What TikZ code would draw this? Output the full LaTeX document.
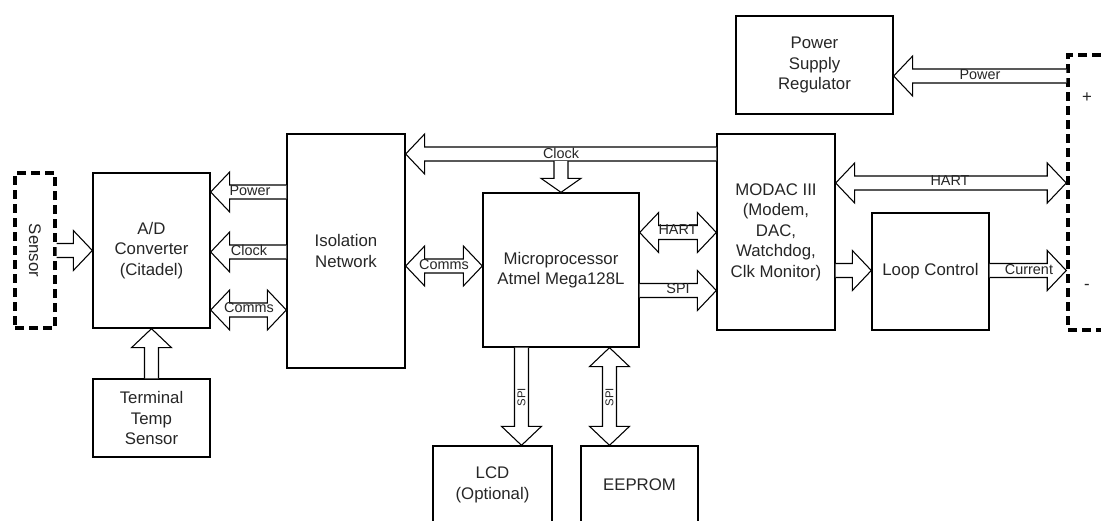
\documentclass[tikz,border=0pt]{standalone}
\usepackage{fontspec}
\setmainfont{Liberation Sans}
\usetikzlibrary{calc}
\def\AW{5.25pt}
\def\AH{15pt}
\def\AL{14.25pt}
\newcommand\mainf{\fontsize{12.6pt}{15.4pt}\selectfont}
\newcommand\labf{\fontsize{10.8pt}{12pt}\selectfont}
\newcommand\tinyf{\fontsize{8.5pt}{10pt}\selectfont}
% single block arrow from #2 to #3
\newcommand\sarrow[3][]{%
  \coordinate (s) at #2; \coordinate (t) at #3;
  \coordinate (hb) at ($(t)!\AL!(s)$);
  \draw[arr,#1] ($(s)!\AW!90:(t)$) -- ($(hb)!\AW!90:(t)$) -- ($(hb)!\AH!90:(t)$) -- (t)
    -- ($(hb)!\AH!-90:(t)$) -- ($(hb)!\AW!-90:(t)$) -- ($(s)!\AW!-90:(t)$);}
% double block arrow between #2 and #3
\newcommand\darrow[3][]{%
  \coordinate (s) at #2; \coordinate (t) at #3;
  \coordinate (hs) at ($(s)!\AL!(t)$);
  \coordinate (ht) at ($(t)!\AL!(s)$);
  \draw[arr,#1] (s) -- ($(hs)!\AH!90:(t)$) -- ($(hs)!\AW!90:(t)$) -- ($(ht)!\AW!90:(t)$)
    -- ($(ht)!\AH!90:(t)$) -- (t) -- ($(ht)!\AH!-90:(t)$) -- ($(ht)!\AW!-90:(t)$)
    -- ($(hs)!\AW!-90:(t)$) -- ($(hs)!\AH!-90:(t)$) -- cycle;}
\tikzset{
  box/.style={draw, line width=1pt, align=center, inner sep=0pt, font=\mainf, text=black!85},
  dbox/.style={draw, line width=2.6pt, dash pattern=on 7pt off 3.5pt, inner sep=0pt},
  sz/.style 2 args={minimum width=#1*0.75pt, minimum height=#2*0.75pt},
  arr/.style={draw, line width=0.8pt, fill=white, line join=miter},
  lab/.style={font=\labf, text=black!85, inner sep=0pt},
}
\begin{document}
\begin{tikzpicture}[x=0.75pt, y=-0.75pt]
\useasboundingbox (0,0) rectangle (1101,521);
\clip (0,0) rectangle (1101,521);
% helper levels
\coordinate (yPowL) at (0,192);
\coordinate (yClkL) at (0,252);
\coordinate (yComL) at (0,310);
\coordinate (yClkT) at (0,154);
\coordinate (yClkB) at (0,161);
\coordinate (yComM) at (0,266);
\coordinate (yHartM) at (0,232.5);
\coordinate (ySpiM) at (0,290.5);
\coordinate (yPowR) at (0,76);
\coordinate (yHartR) at (0,183);
\coordinate (yLoop) at (0,270.5);
\coordinate (xLcd) at (521.5,0);
\coordinate (xEep) at (609.5,0);
% blocks
\node[dbox, sz={40}{155}] (sensor) at (35,250.5) {};
\node[font=\mainf, text=black!85, rotate=-90] at (sensor.center) {Sensor};
\node[box, sz={117}{155}] (ad) at (151.5,250.5) {A/D\\Converter\\(Citadel)};
\node[box, sz={117}{78}] (tts) at (151.5,418) {Terminal\\Temp\\Sensor};
\node[box, sz={118}{234}] (iso) at (346,251) {Isolation\\Network};
\node[box, sz={156}{154}] (mcu) at (561,270) {Microprocessor\\Atmel Mega128L};
\node[box, sz={118}{196}] (modac) at (776,232) {MODAC III\\(Modem,\\DAC,\\Watchdog,\\Clk Monitor)};
\node[box, sz={157}{98}] (psr) at (814.5,65) {Power\\Supply\\Regulator};
\node[box, sz={117}{117}] (loop) at (930.5,271.5) {Loop Control};
\node[box, sz={119}{78}] (lcd) at (492.5,485) {LCD\\(Optional)};
\node[box, sz={117}{78}] (eep) at (639.5,485) {EEPROM};
\node[dbox, sz={40}{275}] (term) at (1088,192.5) {};
\node[font=\mainf, text=black!85] (plus) at (1087,98) {+};
\node[font=\mainf, text=black!85] (minus) at (1087,287) {-};
% connectors
\sarrow{(sensor.east)}{(sensor.east -| ad.west)}
\sarrow{(iso.west |- yPowL)}{(ad.east |- yPowL)}
\sarrow{(iso.west |- yClkL)}{(ad.east |- yClkL)}
\darrow{(ad.east |- yComL)}{(iso.west |- yComL)}
\sarrow{(tts.north)}{(ad.south)}
\sarrow{(modac.west |- yClkT)}{(iso.east |- yClkT)}
{\def\AL{10.5pt}\sarrow{(mcu.north |- yClkB)}{(mcu.north)}}
\darrow{(iso.east |- yComM)}{(mcu.west |- yComM)}
\darrow{(mcu.east |- yHartM)}{(modac.west |- yHartM)}
\sarrow{(mcu.east |- ySpiM)}{(modac.west |- ySpiM)}
\sarrow{(term.west |- yPowR)}{(psr.east |- yPowR)}
\darrow{(modac.east |- yHartR)}{(term.west |- yHartR)}
\sarrow{(modac.east |- yLoop)}{(loop.west |- yLoop)}
\sarrow{(loop.east |- yLoop)}{(term.west |- yLoop)}
\sarrow{(mcu.south -| xLcd)}{(lcd.north -| xLcd)}
\darrow{(mcu.south -| xEep)}{(eep.north -| xEep)}
% connector labels
\node[lab] at (250,191) {Power};
\node[lab] at (249,250) {Clock};
\node[lab] at (249,308) {Comms};
\node[lab] at (561,153) {Clock};
\node[lab] at (444,265) {Comms};
\node[lab] at (678,230) {HART};
\node[lab] at (678,289) {SPI};
\node[lab] at (980,75) {Power};
\node[lab] at (950,181) {HART};
\node[lab] at (1029,270) {Current};
\node[lab, font=\tinyf, rotate=90] at (521.5,397) {SPI};
\node[lab, font=\tinyf, rotate=90] at (609.5,397) {SPI};
\end{tikzpicture}
\end{document}
